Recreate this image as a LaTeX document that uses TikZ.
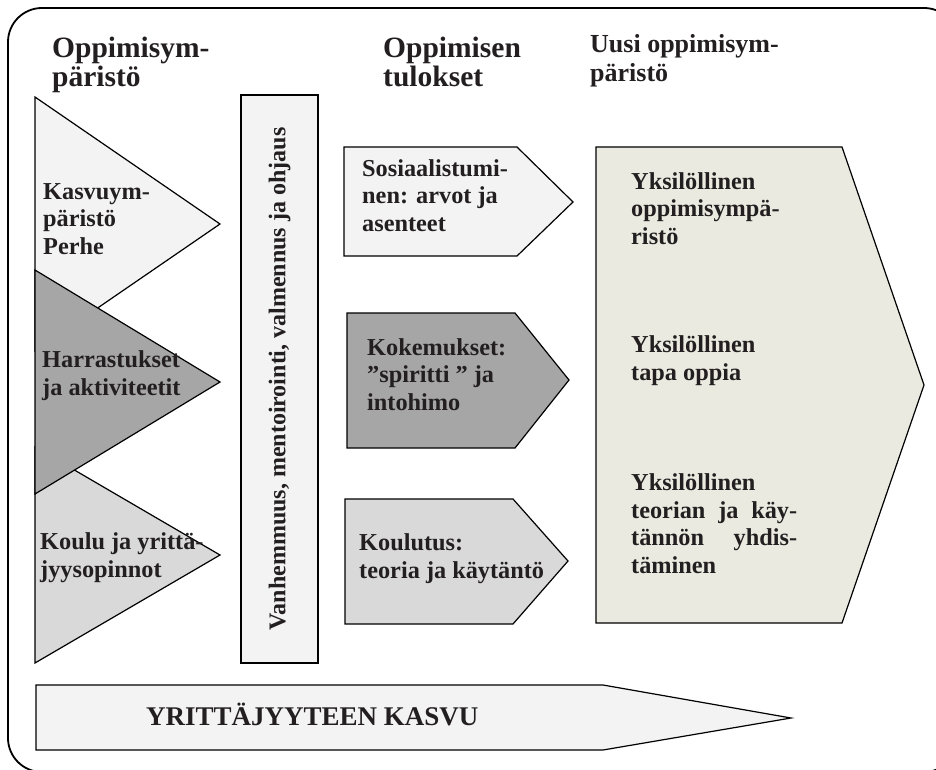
\documentclass[tikz,border=0pt]{standalone}
\usepackage{fontspec}
\setmainfont{Liberation Serif}
\usepackage{graphicx}

\definecolor{ink}{HTML}{231F20}
\definecolor{palefill}{HTML}{F2F3F2}
\definecolor{greyfill}{HTML}{D9D9D9}
\definecolor{darkfill}{HTML}{A6A6A6}
\definecolor{beigefill}{HTML}{EBEAE0}

\newcommand\bodyface{\fontsize{24.3}{27.5}\selectfont\bfseries}
\newcommand\headface{\fontsize{29.5}{29}\selectfont\bfseries}
\newcommand\subheadface{\fontsize{26}{29}\selectfont\bfseries}

\begin{document}
\begin{tikzpicture}[x=1pt,y=-1pt,line join=miter,
  panel/.style={draw=black,line width=1.2pt},
  % multi-line texts are placed by the baseline of their last line
  txt/.style={anchor=base west,inner sep=0pt,align=left,text=ink,font=\bodyface},
  headtxt/.style={txt,font=\headface},
  subheadtxt/.style={txt,font=\subheadface}]

\useasboundingbox (0,0) rectangle (936,770);
\fill[white] (0,0) rectangle (936,770);

% outer frame with rounded corners
\draw[line width=1.8pt,rounded corners=34pt] (8,8) rectangle (958,772);

% column headings
\node[headtxt] (hEnv) at (52,87) {Oppimisym-\\päristö};
\node[headtxt] (hRes) at (383,87) {Oppimisen\\tulokset};
\node[subheadtxt] (hNew) at (590,82) {Uusi oppimisym-\\päristö};

% learning environments (triangles)
\filldraw[panel,fill=palefill] (35,97) -- (220,224) -- (35,351) -- cycle;
\filldraw[panel,fill=greyfill] (35,447) -- (220,555) -- (35,663) -- cycle;
\filldraw[panel,fill=darkfill] (35,270) -- (220,382) -- (35,494) -- cycle;

\node[txt] (tFamily) at (43,254) {Kasvuym-\\päristö\\Perhe};
\node[txt] (tHobby) at (42,395) {Harrastukset\\ja aktiviteetit};
\node[txt] (tSchool) at (40,577) {Koulu ja yrittä-\\jyysopinnot};

% guidance bar
\filldraw[panel,fill=palefill] (241,95) rectangle (318,663);
\node[txt,anchor=center,rotate=90,font=\fontsize{24}{27}\selectfont\bfseries] (tGuide) at (279.5,379)
  {Vanhemmuus, mentoirointi, valmennus ja ohjaus};

% learning outcomes (pentagon arrows)
\filldraw[panel,fill=palefill] (344,147) -- (517,147) -- (573,202) -- (517,256) -- (344,256) -- cycle;
\filldraw[panel,fill=darkfill] (347,313) -- (515,313) -- (569,380) -- (515,448) -- (347,448) -- cycle;
\filldraw[panel,fill=greyfill] (345,499) -- (513,499) -- (568,561) -- (513,624) -- (345,624) -- cycle;

\node[txt] (tSocial) at (362,231) {Sosiaalistumi-\\nen: arvot ja\\asenteet};
\node[txt] (tExp) at (367,410) {Kokemukset:\\”spiritti ” ja\\intohimo};
\node[txt] (tEdu) at (359,578) {Koulutus:\\teoria ja käytäntö};

% new learning environment
\filldraw[panel,fill=beigefill] (596,147) -- (842,147) -- (924,385) -- (842,623) -- (596,623) -- cycle;

\node[txt] (tIndEnv) at (631,244) {Yksilöllinen\\oppimisympä-\\ristö};
\node[txt] (tIndWay) at (631,380) {Yksilöllinen\\tapa oppia};
\node[txt] (tIndMix) at (631,573) {Yksilöllinen\\\makebox[166pt][s]{teorian ja käy-}\\\makebox[166pt][s]{tännön yhdis-}\\täminen};

% growth arrow along the bottom
\filldraw[panel,fill=palefill] (36,685) -- (603,685) -- (791,718) -- (603,750) -- (36,750) -- cycle;
\node[txt,font=\fontsize{27}{30}\selectfont\bfseries] (tGrowth) at (146,725) {YRITTÄJYYTEEN KASVU};

\end{tikzpicture}
\end{document}
